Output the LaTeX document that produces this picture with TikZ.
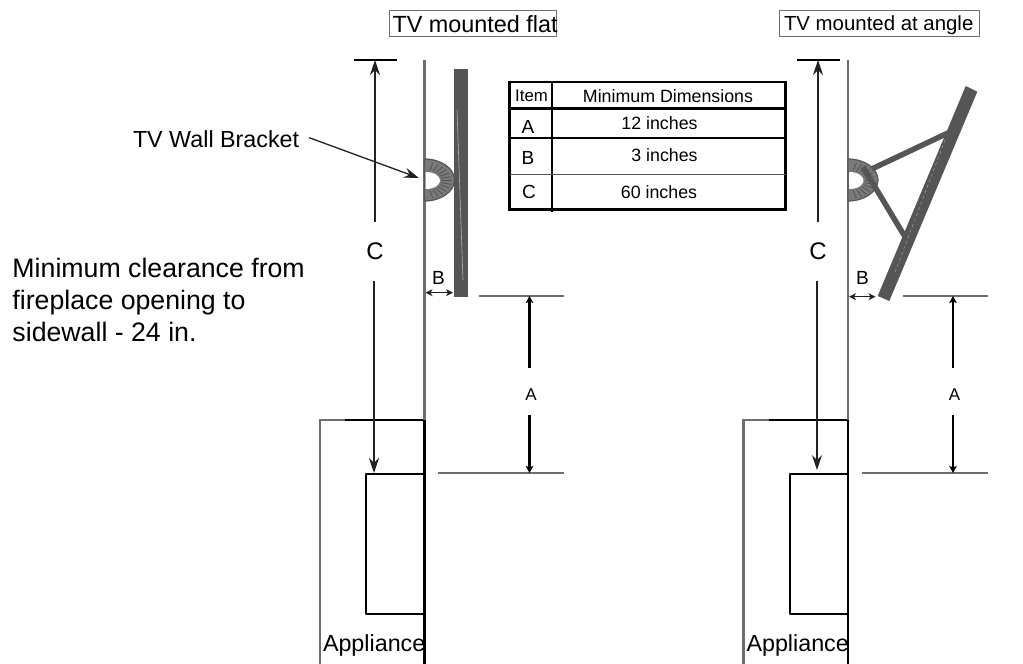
\documentclass[tikz,border=0pt]{standalone}
\usepackage{fontspec}
\setmainfont{Liberation Sans}
\usetikzlibrary{arrows.meta}
\newcommand{\fs}[1]{\fontsize{#1}{#1}\selectfont}
\definecolor{tvgray}{HTML}{555555}
\definecolor{wallgray}{HTML}{6E6E6E}
\definecolor{dimdark}{HTML}{222222}
\tikzset{
  x=1pt,y=-1pt,
  lbl/.style={inner sep=0pt,outer sep=0pt,text=black},
  capbox/.style={draw=wallgray,line width=1.2pt,inner sep=0pt,anchor=north west},
  grayline/.style={draw=wallgray,line width=2.3pt},
  blackline/.style={draw=black,line width=2.7pt},
  dimthin/.style={draw=dimdark,line width=1.3pt},
  dimthick/.style={draw=black,line width=2.2pt},
  tip/.style={-{Stealth[length=15pt,width=10pt,inset=5pt]}},
  smalltip/.style={-{Stealth[length=7pt,width=7.5pt,inset=1.5pt]}},
  doubletip/.style={{Stealth[length=7pt,width=7pt,inset=2pt]}-{Stealth[length=7pt,width=7pt,inset=2pt]}},
  tabline/.style={draw=black,line width=2.6pt},
  tv/.style={fill=tvgray,draw=none},
  arm/.style={draw=tvgray,line width=5.5pt},
  pics/assembly/.style={code={
    % dimension C (its x-offset and lower tip differ between the two drawings)
    \coordinate (ctop) at (354+#1,60);
    \coordinate (ctopr) at (397+#1,60);
    \coordinate (carrowt) at (375+#1,60);
    \coordinate (cup) at (375+#1,222);
    \coordinate (cdn) at (374+#1,281);
    \coordinate (carrowb) at (374+#1,473-#1/150);
    \draw[draw=black,line width=2pt] (ctop) -- (ctopr);
    \node[lbl] (clbl) at (375+#1,251) {\fs{24}C};
    \draw[dimthin,tip] (cup) -- (carrowt);
    \draw[dimthin,tip] (cdn) -- (carrowb);
  }},
  pics/fireplace/.style={code={
    % appliance
    \coordinate (ag1) at (345,420);
    \coordinate (ag2) at (320,420);
    \coordinate (ag3) at (320,664);
    \coordinate (wt) at (424.5,60);
    \coordinate (wm) at (424.5,420);
    \coordinate (wb) at (424.5,664);
    \coordinate (ir1) at (424.5,473.5);
    \coordinate (ir2) at (366,473.5);
    \coordinate (ir3) at (366,613.5);
    \coordinate (ir4) at (424.5,613.5);
    \node[lbl,anchor=base west] (appl) at (323,651.5) {\fs{23.3}Appliance};
    \draw[grayline,line join=miter] (ag1) -- (ag2) -- (ag3);
    \draw[blackline] (ag1) -- (wm);
    \draw[draw=black,line width=2pt,line join=round] (ir1) -- (ir2) -- (ir3) -- (ir4);
    \draw[grayline] (wt) -- (wm);
    \draw[blackline] (wm) -- (wb);
    % bracket
    \filldraw[fill=black!52,draw=tvgray,line width=1.2pt] (424.5,159) .. controls (441,159) and (454.5,168.4) .. (454.5,180)
       .. controls (454.5,191.6) and (441,201) .. (424.5,201) -- cycle;
    \foreach \a in {-72,-60,...,72}{
      \draw[black!68,line width=.8pt]
        ({424.5+17*cos(\a)},{180.5+10.5*sin(\a)}) -- ({424.5+27*cos(\a)},{180.5+18.5*sin(\a)});
    }
    \fill[white] (425.7,172) .. controls (434,172) and (440,176) .. (440,180.5)
       .. controls (440,185) and (434,189) .. (425.7,189) -- cycle;
    % dimension A
    \coordinate (a1l) at (479,296);
    \coordinate (a1r) at (564,296);
    \coordinate (a2l) at (438,473);
    \coordinate (a2r) at (564,473);
    \coordinate (a1a) at (529.5,296);
    \coordinate (a1b) at (529.5,368);
    \coordinate (a2a) at (529.5,473);
    \coordinate (a2b) at (529.5,415);
    \draw[grayline] (a1l) -- (a1r);
    \draw[grayline] (a2l) -- (a2r);
    \draw[dimthick,smalltip] (a1b) -- (a1a);
    \draw[dimthick,smalltip] (a2b) -- (a2a);
    \node[lbl] (albl) at (531,395) {\fs{17}A};
  }}
}
\begin{document}
\begin{tikzpicture}
\useasboundingbox (0,0) rectangle (1023,664);

% left drawing
\pic (LF) at (0,0) {fireplace};
\pic (LC) at (0,0) {assembly=0};
\fill[tv] (454,69) rectangle (468,297);
\draw[white!55!tvgray,line width=.6pt] (457,110) -- (463,280);
\node[lbl] (lb) at (438.5,278) {\fs{19}B};
\coordinate (lb1) at (425.5,292.7);
\coordinate (lb2) at (453,292.7);
\draw[dimthin,doubletip] (lb1) -- (lb2);

% right drawing
\pic (RF) at (423.5,0) {fireplace};
\pic (RC) at (0,0) {assembly=443};
\fill[tv] (965.7,86) -- (977.3,91.7) -- (889.3,301) -- (877.7,296) -- cycle;
\draw[white!55!tvgray,line width=.4pt,dashed] (945,140) -- (894,275);
\draw[arm] (871.7,169) -- (950.7,131.7);
\draw[arm] (863,167) -- (905.7,238);
\node[lbl] (rb) at (862.5,278) {\fs{19}B};
\coordinate (rb1) at (849,296.7);
\coordinate (rb2) at (875.5,296.7);
\draw[dimthin,doubletip] (rb1) -- (rb2);

% captions
\node[capbox,minimum width=167pt,minimum height=25.5pt] (capL) at (388.5,10) {};
\node[lbl,anchor=base west] (capLt) at (392.5,32.7) {\fs{23.4}TV mounted flat};
\node[capbox,minimum width=200pt,minimum height=26pt] (capR) at (778.5,10) {};
\node[lbl,anchor=base west] (capRt) at (784,30) {\fs{20.4}TV mounted at angle};

% side text
\node[lbl,anchor=base west] (t1) at (12.5,277) {\fs{26.7}Minimum clearance from};
\node[lbl,anchor=base west] (t2) at (12.5,309) {\fs{26.7}fireplace opening to};
\node[lbl,anchor=base west] (t3) at (12.5,341) {\fs{26.7}sidewall - 24 in.};

% wall bracket label
\node[lbl,anchor=base west] (wbl) at (133,147) {\fs{23.3}TV Wall Bracket};
\coordinate (wbt) at (419,178);
\draw[dimthin,tip] (wbl.east) ++(10,-1) -- (wbt);

% table
\draw[tabline] (509.5,82) rectangle (785.5,209.5);
\draw[tabline] (552,82) -- (552,212);
\draw[tabline] (509.5,108.5) -- (785.5,108.5);
\draw[tabline] (509.5,138) -- (785.5,138);
\draw[draw=tvgray,line width=1.6pt] (509.5,174.5) -- (785.5,174.5);
\node[lbl] (hi) at (531.5,96) {\fs{16.8}Item};
\node[lbl] (hd) at (668,96) {\fs{17.8}Minimum Dimensions};
\node[lbl] (ra) at (528,126.5) {\fs{19}A};
\node[lbl] (rab) at (659.5,123) {\fs{17.8}12 inches};
\node[lbl] (rb2t) at (528,158) {\fs{19}B};
\node[lbl] (rbb) at (664.5,155) {\fs{17.8}3 inches};
\node[lbl] (rc) at (529,192) {\fs{19}C};
\node[lbl] (rcb) at (659,192) {\fs{17.8}60 inches};
\end{tikzpicture}
\end{document}
